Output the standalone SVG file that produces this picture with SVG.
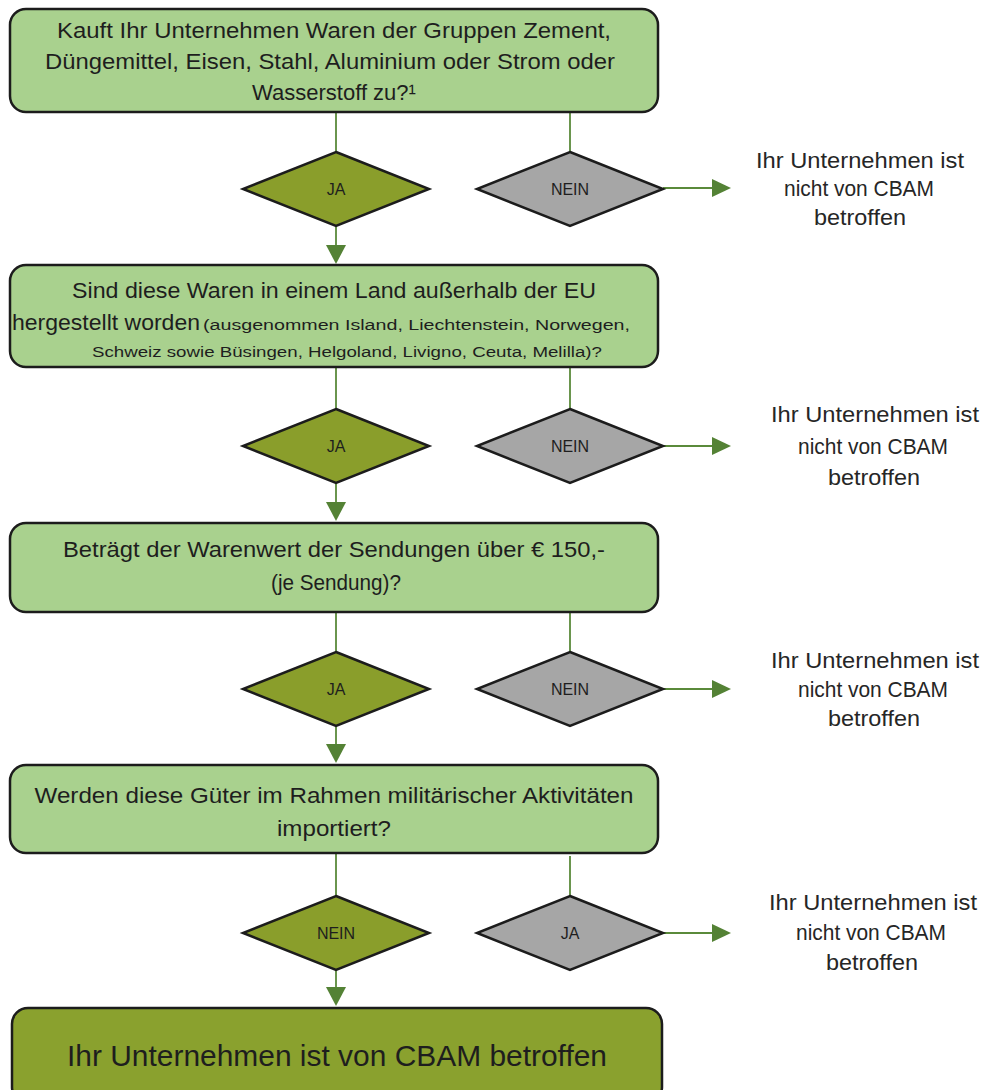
<svg xmlns="http://www.w3.org/2000/svg" width="988" height="1090" viewBox="0 0 988 1090">
<defs>
<style>
.box{fill:#a9d18e;stroke:#1c1c1c;stroke-width:2.5}
.final{fill:#8aa12e;stroke:#1c1c1c;stroke-width:2.5}
.dy{fill:#8a9e2b;stroke:#1c1c1c;stroke-width:2.5}
.dn{fill:#a6a6a6;stroke:#1c1c1c;stroke-width:2.5}
.ln{stroke:#5a8a3a;stroke-width:1.8;fill:none}
.t{font-family:"Liberation Sans",Arial,sans-serif;fill:#1e1e1e;text-anchor:middle}
.q{font-size:22px}
.s{font-size:15.5px}
.d{font-size:16px}
.r{font-size:22px;fill:#262626}
.big{font-size:30px}
</style>
</defs>

<g id="connectors">
<line class="ln" x1="336" y1="112" x2="336" y2="152"/>
<line class="ln" x1="570" y1="112" x2="570" y2="152"/>
<line class="ln" x1="336" y1="226" x2="336" y2="246"/>
<path d="M326,245 L346,245 L336,264 Z" fill="#548235"/>
<line class="ln" x1="663" y1="188" x2="713" y2="188"/>
<path d="M712,179 L731,188 L712,197 Z" fill="#548235"/>

<line class="ln" x1="336" y1="367" x2="336" y2="409"/>
<line class="ln" x1="570" y1="367" x2="570" y2="409"/>
<line class="ln" x1="336" y1="482" x2="336" y2="503"/>
<path d="M326,502 L346,502 L336,521 Z" fill="#548235"/>
<line class="ln" x1="663" y1="446" x2="713" y2="446"/>
<path d="M712,437 L731,446 L712,455 Z" fill="#548235"/>

<line class="ln" x1="336" y1="612" x2="336" y2="652"/>
<line class="ln" x1="570" y1="612" x2="570" y2="652"/>
<line class="ln" x1="336" y1="726" x2="336" y2="745"/>
<path d="M326,744 L346,744 L336,763 Z" fill="#548235"/>
<line class="ln" x1="663" y1="689" x2="713" y2="689"/>
<path d="M712,680 L731,689 L712,698 Z" fill="#548235"/>

<line class="ln" x1="336" y1="854" x2="336" y2="896"/>
<line class="ln" x1="570" y1="856" x2="570" y2="896"/>
<line class="ln" x1="336" y1="969" x2="336" y2="988"/>
<path d="M326,987 L346,987 L336,1006 Z" fill="#548235"/>
<line class="ln" x1="663" y1="933" x2="713" y2="933"/>
<path d="M712,924 L731,933 L712,942 Z" fill="#548235"/>
</g>

<g id="q1">
<rect class="box" x="10" y="9" width="648" height="103" rx="16"/>
<text class="t q" x="334" y="38" textLength="554" lengthAdjust="spacingAndGlyphs">Kauft Ihr Unternehmen Waren der Gruppen Zement,</text>
<text class="t q" x="330" y="69" textLength="570" lengthAdjust="spacingAndGlyphs">Düngemittel, Eisen, Stahl, Aluminium oder Strom oder</text>
<text class="t q" x="334" y="100">Wasserstoff zu?¹</text>
</g>
<g id="d1-ja"><polygon class="dy" points="336,152 429,189 336,226 243,189"/><text class="t d" x="336" y="195">JA</text></g>
<g id="d1-nein"><polygon class="dn" points="570,152 663,189 570,226 477,189"/><text class="t d" x="570" y="195">NEIN</text></g>
<g id="r1">
<text class="t r" x="860" y="168" textLength="208" lengthAdjust="spacingAndGlyphs">Ihr Unternehmen ist</text>
<text class="t r" x="859" y="196" textLength="150" lengthAdjust="spacingAndGlyphs">nicht von CBAM</text>
<text class="t r" x="860" y="225" textLength="92" lengthAdjust="spacingAndGlyphs">betroffen</text>
</g>

<g id="q2">
<rect class="box" x="10" y="265" width="648" height="102" rx="16"/>
<text class="t q" x="334" y="298" textLength="524" lengthAdjust="spacingAndGlyphs">Sind diese Waren in einem Land außerhalb der EU</text>
<text class="t" x="12" y="330" style="text-anchor:start"><tspan class="q" textLength="188" lengthAdjust="spacingAndGlyphs">hergestellt worden</tspan><tspan class="s" x="203" textLength="427" lengthAdjust="spacingAndGlyphs">(ausgenommen Island, Liechtenstein, Norwegen,</tspan></text>
<text class="t s" x="347" y="357" textLength="510" lengthAdjust="spacingAndGlyphs">Schweiz sowie Büsingen, Helgoland, Livigno, Ceuta, Melilla)?</text>
</g>
<g id="d2-ja"><polygon class="dy" points="336,409 429,446 336,483 243,446"/><text class="t d" x="336" y="452">JA</text></g>
<g id="d2-nein"><polygon class="dn" points="570,409 663,446 570,483 477,446"/><text class="t d" x="570" y="452">NEIN</text></g>
<g id="r2">
<text class="t r" x="875" y="422" textLength="208" lengthAdjust="spacingAndGlyphs">Ihr Unternehmen ist</text>
<text class="t r" x="873" y="454" textLength="150" lengthAdjust="spacingAndGlyphs">nicht von CBAM</text>
<text class="t r" x="874" y="485" textLength="92" lengthAdjust="spacingAndGlyphs">betroffen</text>
</g>

<g id="q3">
<rect class="box" x="10" y="523" width="648" height="89" rx="16"/>
<text class="t q" x="334" y="557" textLength="542" lengthAdjust="spacingAndGlyphs">Beträgt der Warenwert der Sendungen über € 150,-</text>
<text class="t q" x="336" y="590" textLength="130" lengthAdjust="spacingAndGlyphs">(je Sendung)?</text>
</g>
<g id="d3-ja"><polygon class="dy" points="336,652 429,689 336,726 243,689"/><text class="t d" x="336" y="695">JA</text></g>
<g id="d3-nein"><polygon class="dn" points="570,652 663,689 570,726 477,689"/><text class="t d" x="570" y="695">NEIN</text></g>
<g id="r3">
<text class="t r" x="875" y="668" textLength="208" lengthAdjust="spacingAndGlyphs">Ihr Unternehmen ist</text>
<text class="t r" x="873" y="697" textLength="150" lengthAdjust="spacingAndGlyphs">nicht von CBAM</text>
<text class="t r" x="874" y="726" textLength="92" lengthAdjust="spacingAndGlyphs">betroffen</text>
</g>

<g id="q4">
<rect class="box" x="10" y="765" width="648" height="88" rx="16"/>
<text class="t q" x="334" y="803" textLength="599" lengthAdjust="spacingAndGlyphs">Werden diese Güter im Rahmen militärischer Aktivitäten</text>
<text class="t q" x="334" y="836" textLength="114" lengthAdjust="spacingAndGlyphs">importiert?</text>
</g>
<g id="d4-nein"><polygon class="dy" points="336,896 429,933 336,970 243,933"/><text class="t d" x="336" y="939">NEIN</text></g>
<g id="d4-ja"><polygon class="dn" points="570,896 663,933 570,970 477,933"/><text class="t d" x="570" y="939">JA</text></g>
<g id="r4">
<text class="t r" x="873" y="910" textLength="208" lengthAdjust="spacingAndGlyphs">Ihr Unternehmen ist</text>
<text class="t r" x="871" y="940" textLength="150" lengthAdjust="spacingAndGlyphs">nicht von CBAM</text>
<text class="t r" x="872" y="970" textLength="92" lengthAdjust="spacingAndGlyphs">betroffen</text>
</g>

<g id="result">
<rect class="final" x="12" y="1008" width="650" height="95" rx="16"/>
<text class="t big" x="337" y="1066" textLength="540" lengthAdjust="spacingAndGlyphs">Ihr Unternehmen ist von CBAM betroffen</text>
</g>
</svg>
